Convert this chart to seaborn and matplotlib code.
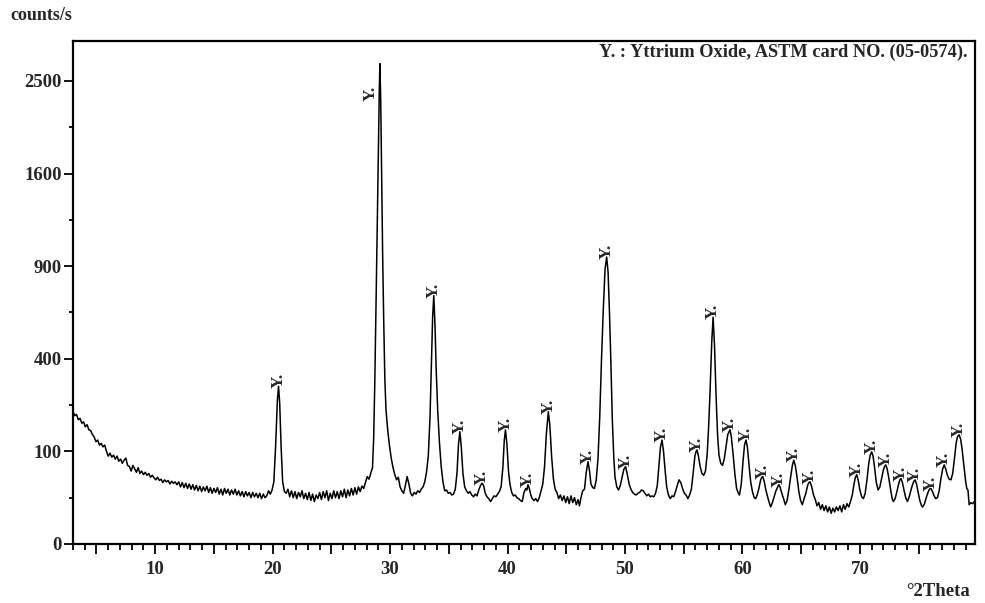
import numpy as np
import pandas as pd
import matplotlib
matplotlib.use("Agg")
import matplotlib.pyplot as plt
import seaborn as sns
from matplotlib.ticker import FixedLocator, MultipleLocator, FuncFormatter

# Diffraction scan: 2-theta (degrees) and measured intensity (counts/s)
two_theta = [
    3.0, 3.15, 3.3, 3.45, 3.6, 3.75, 3.9, 4.05, 4.2, 4.35, 4.5, 4.65, 4.8, 4.95,
    5.1, 5.25, 5.4, 5.55, 5.7, 5.85, 6.0, 6.15, 6.3, 6.45, 6.6, 6.75, 6.9, 7.05,
    7.2, 7.35, 7.5, 7.65, 7.8, 7.95, 8.1, 8.25, 8.4, 8.55, 8.7, 8.85, 9.0, 9.15,
    9.3, 9.45, 9.6, 9.75, 9.9, 10.05, 10.2, 10.35, 10.5, 10.65, 10.8, 10.95,
    11.1, 11.25, 11.4, 11.55, 11.7, 11.85, 12.0, 12.15, 12.3, 12.45, 12.6, 12.75,
    12.9, 13.05, 13.2, 13.35, 13.5, 13.65, 13.8, 13.95, 14.1, 14.25, 14.4, 14.55,
    14.7, 14.85, 15.0, 15.15, 15.3, 15.45, 15.6, 15.75, 15.9, 16.05, 16.2, 16.35,
    16.5, 16.65, 16.8, 16.95, 17.1, 17.25, 17.4, 17.55, 17.7, 17.85, 18.0, 18.15,
    18.3, 18.45, 18.6, 18.75, 18.9, 19.05, 19.2, 19.35, 19.5, 19.65, 19.8, 19.95,
    20.1, 20.25, 20.4, 20.5, 20.6, 20.72, 20.85, 21.0, 21.15, 21.3, 21.45, 21.6,
    21.75, 21.9, 22.05, 22.2, 22.35, 22.5, 22.65, 22.8, 22.95, 23.1, 23.25, 23.4,
    23.55, 23.7, 23.85, 24.0, 24.15, 24.3, 24.45, 24.6, 24.75, 24.9, 25.05, 25.2,
    25.35, 25.5, 25.65, 25.8, 25.95, 26.1, 26.25, 26.4, 26.55, 26.7, 26.85, 27.0,
    27.15, 27.3, 27.45, 27.6, 27.75, 27.9, 28.05, 28.2, 28.35, 28.5, 28.6, 28.7,
    28.8, 28.9, 29.0, 29.08, 29.13, 29.2, 29.28, 29.36, 29.45, 29.55, 29.65, 29.8,
    29.95, 30.1, 30.25, 30.4, 30.55, 30.7, 30.85, 31.0, 31.15, 31.3, 31.45, 31.6,
    31.75, 31.9, 32.05, 32.2, 32.35, 32.5, 32.65, 32.8, 32.95, 33.1, 33.25, 33.4,
    33.52, 33.62, 33.72, 33.82, 33.92, 34.05, 34.2, 34.35, 34.5, 34.65, 34.8,
    34.95, 35.1, 35.25, 35.4, 35.55, 35.7, 35.82, 35.94, 36.06, 36.2, 36.35, 36.5,
    36.65, 36.8, 36.95, 37.1, 37.25, 37.4, 37.55, 37.7, 37.83, 37.96, 38.1, 38.25,
    38.4, 38.55, 38.7, 38.85, 39.0, 39.15, 39.3, 39.45, 39.6, 39.72, 39.82, 39.94,
    40.08, 40.2, 40.35, 40.5, 40.65, 40.8, 40.95, 41.1, 41.25, 41.4, 41.55, 41.65,
    41.74, 41.85, 41.98, 42.1, 42.25, 42.4, 42.55, 42.7, 42.85, 43.0, 43.15, 43.3,
    43.47, 43.6, 43.75, 43.9, 44.05, 44.2, 44.35, 44.5, 44.65, 44.8, 44.95, 45.1,
    45.25, 45.4, 45.55, 45.7, 45.85, 46.0, 46.12, 46.25, 46.4, 46.55, 46.7, 46.85,
    46.98, 47.1, 47.25, 47.4, 47.55, 47.7, 47.85, 48.0, 48.15, 48.3, 48.44, 48.56,
    48.68, 48.8, 48.92, 49.05, 49.15, 49.3, 49.45, 49.6, 49.75, 49.9, 50.05, 50.2,
    50.35, 50.5, 50.65, 50.8, 50.95, 51.1, 51.25, 51.4, 51.55, 51.7, 51.85, 52.0,
    52.15, 52.3, 52.45, 52.6, 52.75, 52.9, 53.02, 53.15, 53.28, 53.42, 53.55, 53.7,
    53.85, 54.0, 54.15, 54.3, 54.45, 54.6, 54.75, 54.9, 55.05, 55.2, 55.35, 55.5,
    55.65, 55.8, 55.95, 56.05, 56.13, 56.25, 56.4, 56.55, 56.7, 56.85, 57.0, 57.12,
    57.25, 57.38, 57.5, 57.62, 57.75, 57.88, 58.0, 58.15, 58.3, 58.45, 58.6, 58.75,
    58.94, 59.05, 59.2, 59.35, 59.5, 59.65, 59.75, 59.9, 60.05, 60.18, 60.3, 60.42,
    60.55, 60.7, 60.85, 61.0, 61.12, 61.25, 61.4, 61.55, 61.65, 61.73, 61.85, 61.98,
    62.1, 62.25, 62.4, 62.55, 62.7, 62.85, 63.0, 63.09, 63.2, 63.35, 63.5, 63.65,
    63.8, 63.95, 64.1, 64.25, 64.37, 64.5, 64.65, 64.8, 64.95, 65.1, 65.25, 65.4,
    65.55, 65.65, 65.76, 65.9, 66.05, 66.2, 66.35, 66.5, 66.65, 66.8, 66.95, 67.1,
    67.25, 67.4, 67.55, 67.7, 67.85, 68.0, 68.15, 68.3, 68.45, 68.6, 68.75, 68.9,
    69.05, 69.2, 69.35, 69.5, 69.62, 69.73, 69.85, 70.0, 70.15, 70.3, 70.45, 70.6,
    70.75, 70.88, 71.0, 71.12, 71.25, 71.4, 71.55, 71.7, 71.85, 72.0, 72.1, 72.2,
    72.32, 72.45, 72.6, 72.75, 72.85, 73.0, 73.15, 73.3, 73.4, 73.5, 73.62, 73.75,
    73.9, 74.05, 74.2, 74.35, 74.5, 74.6, 74.7, 74.82, 74.95, 75.1, 75.25, 75.35,
    75.5, 75.65, 75.8, 75.92, 76.05, 76.18, 76.32, 76.45, 76.6, 76.75, 76.9, 77.05,
    77.18, 77.3, 77.45, 77.6, 77.75, 77.9, 78.05, 78.2, 78.32, 78.45, 78.58, 78.7,
    78.85, 79.0, 79.1, 79.2, 79.3, 79.45, 79.6, 79.75,
]

counts = [
    205, 192, 196, 180, 184, 170, 174, 160, 166, 152, 150, 140, 134, 122,
    126, 114, 118, 110, 114, 100, 90, 96, 88, 92, 84, 90, 80, 84,
    76, 82, 86, 72, 70, 62, 72, 66, 60, 68, 58, 62, 56, 60,
    55, 58, 52, 55, 51, 48, 52, 47, 49, 44, 48, 45,
    47, 42, 46, 43, 45, 41, 45, 38, 44, 37, 43, 36,
    42, 35, 41, 34, 40, 33, 39, 32, 38, 33, 39, 31,
    37, 30, 36, 31, 37, 29, 35, 28, 36, 30, 35, 28,
    34, 29, 35, 28, 33, 27, 32, 26, 32, 27, 31, 25,
    31, 26, 30, 25, 30, 24, 29, 25, 27, 33, 29, 34,
    45, 110, 240, 290, 230, 110, 45, 32, 30, 35, 26, 33,
    25, 32, 24, 31, 26, 33, 24, 30, 23, 31, 22, 29,
    21, 28, 24, 31, 23, 32, 25, 33, 22, 30, 24, 33,
    25, 32, 24, 33, 26, 35, 25, 34, 27, 36, 28, 37,
    29, 38, 32, 39, 36, 44, 53, 49, 58, 68, 130, 314,
    650, 1150, 1800, 2400, 2690, 2300, 1600, 1000, 600, 320, 210, 150,
    112, 85, 68, 56, 48, 52, 38, 33, 30, 40, 53, 42,
    30, 27, 31, 29, 33, 31, 35, 38, 45, 60, 90, 190,
    380, 600, 720, 560, 360, 210, 120, 70, 45, 33, 34,
    30, 31, 28, 29, 35, 60, 115, 147, 110, 58, 38, 33,
    30, 32, 28, 26, 29, 27, 34, 40, 43, 40, 30, 26,
    24, 21, 24, 27, 26, 29, 32, 38, 68, 125, 152, 118,
    62, 42, 31, 27, 28, 25, 24, 22, 21, 31, 36, 34,
    41, 36, 28, 24, 22, 24, 21, 25, 33, 42, 70, 140,
    204, 165, 90, 50, 35, 31, 24, 28, 22, 27, 20, 26,
    19, 27, 20, 25, 18, 23, 17, 25, 33, 35, 60, 79,
    62, 42, 37, 36, 48, 85, 190, 400, 640, 880, 960, 860,
    620, 380, 180, 85, 52, 38, 34, 40, 52, 65, 70, 56,
    42, 35, 31, 29, 28, 30, 31, 34, 33, 30, 27, 29,
    26, 27, 26, 30, 40, 75, 110, 126, 100, 62, 38, 28,
    24, 27, 26, 32, 40, 48, 44, 36, 30, 28, 24, 28,
    35, 58, 90, 100, 103, 90, 70, 58, 55, 62, 95, 160,
    280, 470, 600, 460, 260, 140, 92, 76, 72, 84, 110, 140,
    152, 135, 95, 58, 36, 30, 28, 42, 80, 115, 126, 110,
    75, 45, 32, 25, 24, 28, 36, 48, 52, 53, 46, 35,
    28, 21, 16, 20, 26, 33, 38, 41, 38, 30, 24, 18,
    22, 34, 52, 72, 82, 72, 52, 32, 22, 18, 24, 30,
    40, 44, 45, 38, 28, 23, 17, 20, 14, 18, 13, 17,
    12, 16, 11, 15, 12, 16, 13, 17, 12, 18, 14, 19,
    16, 21, 28, 42, 52, 56, 48, 34, 26, 24, 30, 48,
    75, 92, 99, 90, 68, 44, 34, 38, 50, 64, 70, 73,
    66, 52, 36, 24, 21, 24, 32, 42, 48, 50, 44, 34,
    25, 21, 26, 34, 42, 46, 48, 42, 32, 22, 17, 16,
    19, 25, 31, 35, 36, 32, 27, 24, 25, 33, 50, 66,
    73, 66, 55, 49, 48, 58, 85, 120, 135, 139, 128, 105,
    72, 46, 36, 34, 18, 20, 19, 21,
]

# Reflections indexed to Y2O3
peak_theta = [20.5, 29.13, 33.72, 35.94, 37.83, 39.82, 41.74, 43.47, 46.85,
              48.44, 50.05, 53.15, 56.13, 57.5, 58.94, 60.3, 61.73, 63.09,
              64.37, 65.76, 69.73, 71.0, 72.2, 73.5, 74.7, 76.05, 77.18, 78.45]

y_major = [0, 100, 400, 900, 1600, 2500]
y_minor = [25, 225, 625, 1225, 2025]
x_label_step = 10

sns.set_theme(style="white")
plt.rcParams["font.family"] = ["Liberation Serif", "DejaVu Serif"]
plt.rcParams["font.weight"] = "bold"
plt.rcParams["font.size"] = 13

fig = plt.figure(figsize=(9.85, 6.03), dpi=100)
ax = fig.add_axes([73 / 985, 59 / 603, 902 / 985, 503 / 603])

df = pd.DataFrame({"two_theta": two_theta, "counts": counts})
sns.lineplot(data=df, x="two_theta", y="counts", ax=ax, color="black",
             linewidth=1.1, estimator=None, sort=False)

ax.set_yscale("function",
              functions=(lambda v: np.sqrt(np.clip(v, 0, None)),
                         lambda v: np.square(v)))
ax.set_xlim(3, 79.8)
ax.set_ylim(0, 2950)
ax.set_xlabel("")
ax.set_ylabel("")

for side in ["left", "right", "top", "bottom"]:
    ax.spines[side].set_visible(True)
    ax.spines[side].set_color("black")
    ax.spines[side].set_linewidth(1.6)

ax.yaxis.set_major_locator(FixedLocator(y_major))
ax.yaxis.set_minor_locator(FixedLocator(y_minor))
ax.yaxis.set_major_formatter(FuncFormatter(lambda v, p: f"{int(round(v))}"))
ax.xaxis.set_major_locator(MultipleLocator(5))
ax.xaxis.set_minor_locator(MultipleLocator(1))
ax.xaxis.set_major_formatter(FuncFormatter(
    lambda v, p: f"{int(round(v))}" if int(round(v)) % x_label_step == 0 else ""))

ax.tick_params(axis="both", which="both", direction="out", color="black",
               width=1.3, bottom=True, left=True, top=False, right=False)
ax.tick_params(axis="x", which="major", length=7.5, pad=5, labelsize=13.5)
ax.tick_params(axis="x", which="minor", length=4)
ax.tick_params(axis="y", which="major", length=6.5, pad=1.5, labelsize=13.5)
ax.tick_params(axis="y", which="minor", length=3)
for lab in ax.get_xticklabels() + ax.get_yticklabels():
    lab.set_fontweight("bold")

# Phase markers above each indexed reflection
x_arr = np.array(two_theta)
y_arr = np.array(counts)
top_peak = peak_theta[int(np.argmax([y_arr[np.abs(x_arr - p) < 0.2].max()
                                     for p in peak_theta]))]
for p in peak_theta:
    h = y_arr[np.abs(x_arr - p) < 0.2].max()
    if p == top_peak:
        ax.annotate("Y.", xy=(p, h * 0.85), xytext=(-1, 0),
                    textcoords="offset points", rotation=90,
                    ha="right", va="bottom", fontsize=12.5, fontweight="bold")
    else:
        ax.annotate("Y.", xy=(p, h), xytext=(0, -1.5),
                    textcoords="offset points", rotation=90,
                    ha="center", va="bottom", fontsize=12.5, fontweight="bold")

ax.text(0.992, 0.978, "Y. : Yttrium Oxide, ASTM card NO. (05-0574).",
        transform=ax.transAxes, ha="right", va="center",
        fontsize=13.2, fontweight="bold")

fig.text(10 / 985, 1 - 15 / 603, "counts/s", ha="left", va="center",
         fontsize=13, fontweight="bold")
fig.text(970 / 985, 1 - 592 / 603, "°2Theta", ha="right", va="center",
         fontsize=13.5, fontweight="bold")

fig.savefig("out.png", dpi=100)
